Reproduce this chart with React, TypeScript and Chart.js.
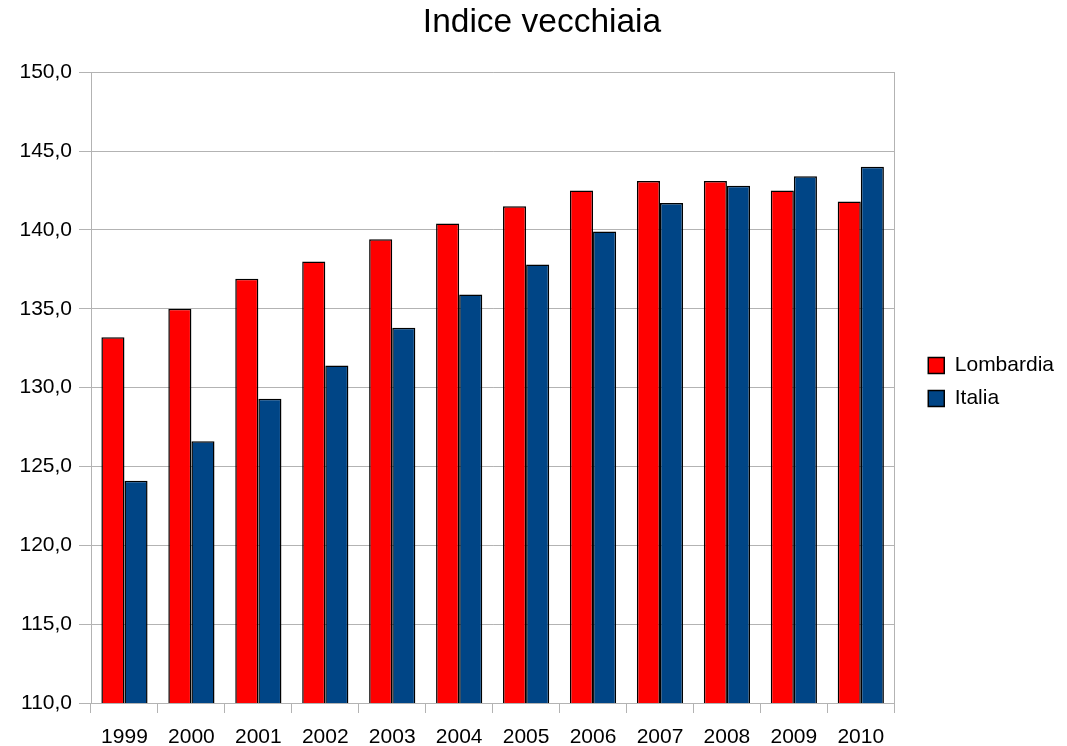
import React, { useEffect, useRef } from "react";
import { Chart, registerables } from "chart.js";

Chart.register(...registerables);

const years = ["1999", "2000", "2001", "2002", "2003", "2004", "2005", "2006", "2007", "2008", "2009", "2010"];
const lombardia = [133.2, 135.0, 136.9, 138.0, 139.4, 140.4, 141.5, 142.5, 143.1, 143.1, 142.5, 141.8];
const italia = [124.1, 126.6, 129.3, 131.4, 133.8, 135.9, 137.8, 139.9, 141.7, 142.8, 143.4, 144.0];
const yTicks = [110, 115, 120, 125, 130, 135, 140, 145, 150];

const FONT = "'Liberation Sans', Arial, sans-serif";
const GRID = "#b3b3b3";

const shiftPlugin = {
  id: "shiftBlocks",
  afterLayout(chart: any) {
    const t = chart.titleBlock;
    if (t) {
      const dx = 542 - (t.left + t.right) / 2;
      t.left += dx;
      t.right += dx;
    }
    const l = chart.legend;
    if (l) {
      l.top += 9;
      l.bottom += 9;
    }
  },
};

export default function App() {
  const ref = useRef<HTMLCanvasElement>(null);
  useEffect(() => {
    document.body.style.margin = "0";
    const chart = new Chart(ref.current!, {
      type: "bar",
      data: {
        labels: years,
        datasets: [
          {
            label: "Lombardia",
            data: lombardia,
            backgroundColor: "#ff0000",
            borderColor: "#000000",
            borderWidth: 1.5,
            borderSkipped: false,
          },
          {
            label: "Italia",
            data: italia,
            backgroundColor: "#004586",
            borderColor: "#000000",
            borderWidth: 1.5,
            borderSkipped: false,
          },
        ],
      },
      options: {
        animation: false,
        responsive: false,
        maintainAspectRatio: false,
        layout: { padding: { left: 0, right: 3, top: 0, bottom: 0 } },
        datasets: { bar: { categoryPercentage: 0.69, barPercentage: 1.0 } },
        plugins: {
          title: {
            display: true,
            text: "Indice vecchiaia",
            color: "#000",
            font: { family: FONT, size: 33.5, weight: "normal" },
            padding: { top: 3, bottom: 29 },
          },
          legend: {
            position: "right",
            labels: {
              color: "#000",
              font: { family: FONT, size: 21 },
              boxWidth: 16,
              boxHeight: 16,
              padding: 12,
            },
          },
          tooltip: { enabled: false },
        },
        scales: {
          x: {
            offset: true,
            grid: {
              display: true,
              offset: true,
              drawOnChartArea: false,
              drawTicks: true,
              tickLength: 10,
              color: GRID,
            },
            border: { color: GRID },
            ticks: { color: "#000", font: { family: FONT, size: 21 }, padding: 12, maxRotation: 0 },
            afterFit: (s: any) => {
              s.height = 43;
            },
          },
          y: {
            min: 110,
            max: 150,
            afterBuildTicks: (s: any) => {
              s.ticks = yTicks.map((v) => ({ value: v }));
            },
            grid: { color: GRID, tickLength: 12 },
            border: { color: GRID },
            ticks: {
              color: "#000",
              font: { family: FONT, size: 21 },
              padding: 7,
              callback: (v: any) => Number(v).toFixed(1).replace(".", ","),
            },
            afterFit: (s: any) => {
              s.width = 91;
            },
          },
          yRight: {
            position: "right",
            min: 110,
            max: 150,
            grid: { display: false, drawOnChartArea: false, drawTicks: false },
            border: { display: true, color: GRID },
            ticks: { display: false },
            afterFit: (s: any) => {
              s.width = 22;
            },
          },
        },
      },
      plugins: [shiftPlugin],
    });
    return () => chart.destroy();
  }, []);
  return (
    <div style={{ position: "absolute", left: 0, top: 0, width: 1067, height: 746, background: "#fff" }}>
      <canvas ref={ref} width={1067} height={746} />
    </div>
  );
}
